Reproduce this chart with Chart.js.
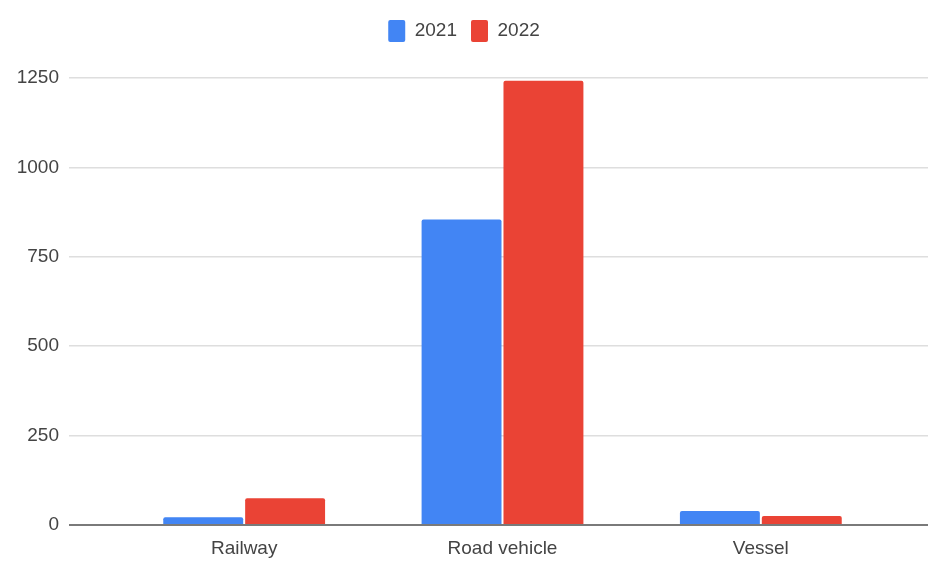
<!DOCTYPE html>
<html>
<head>
<meta charset="utf-8">
<script src="https://cdn.jsdelivr.net/npm/chart.js@4/dist/chart.umd.min.js"></script>
<style>
  html, body { margin: 0; padding: 0; background: #fff; }
  #wrap { width: 928px; height: 561px; }
</style>
</head>
<body>
<div id="wrap"><canvas id="c"></canvas></div>
<script>
// values
var categories = ['Railway', 'Road vehicle', 'Vessel'];
var seriesNames = ['2021', '2022'];
var values2021 = [22, 854, 39];
var values2022 = [75, 1242, 25];
var yTicks = [0, 250, 500, 750, 1000, 1250];

var FONT = "Arial, 'Liberation Sans', sans-serif";

// push the plot down below the legend
var legendGap = {
  id: 'legendGap',
  beforeInit: function(chart) {
    var fit = chart.legend.fit;
    chart.legend.fit = function() {
      fit.bind(this)();
      this.height += 26;
    };
  }
};

function gridColor(ctx) {
  return ctx.tick && ctx.tick.value === 0 ? '#7a7a7a' : '#dedede';
}
function gridWidth(ctx) {
  return ctx.tick && ctx.tick.value === 0 ? 2 : 1.5;
}
function fixedTicks(s) {
  s.ticks = yTicks.map(function(v) { return { value: v }; });
}

var ctx = document.getElementById('c').getContext('2d');
var chart = new Chart(ctx, {
  type: 'bar',
  data: {
    labels: categories,
    datasets: [
      { label: seriesNames[0], data: values2021, backgroundColor: '#4285f4', borderRadius: 2, borderSkipped: 'bottom' },
      { label: seriesNames[1], data: values2022, backgroundColor: '#ea4335', borderRadius: 2, borderSkipped: 'bottom' }
    ]
  },
  options: {
    responsive: true,
    maintainAspectRatio: false,
    animation: false,
    devicePixelRatio: 1,
    layout: { padding: { top: 6, left: 0, right: 0, bottom: 0 } },
    datasets: {
      bar: { categoryPercentage: 0.634, barPercentage: 0.976 }
    },
    plugins: {
      legend: {
        position: 'top',
        labels: {
          font: { family: FONT, size: 19 },
          color: '#444',
          boxWidth: 17,
          boxHeight: 22,
          padding: 14,
          useBorderRadius: true,
          borderRadius: 2
        }
      },
      tooltip: { enabled: false }
    },
    scales: {
      x: {
        grid: { display: false, drawTicks: false },
        border: { display: false },
        ticks: { font: { family: FONT, size: 19 }, color: '#444', padding: 12 },
        afterFit: function(s) { s.height = 36; }
      },
      y: {
        position: 'left',
        min: 0,
        max: 1250,
        afterBuildTicks: fixedTicks,
        grid: {
          drawOnChartArea: false,
          lineWidth: gridWidth,
          tickLength: 46,
          tickColor: gridColor,
          tickWidth: gridWidth
        },
        border: { display: false },
        ticks: {
          font: { family: FONT, size: 19 },
          color: '#444',
          padding: 10,
          callback: function(v) { return String(v); }
        },
        afterFit: function(s) { s.width = 115; }
      },
      yRight: {
        position: 'right',
        display: true,
        min: 0,
        max: 1250,
        afterBuildTicks: fixedTicks,
        grid: { color: gridColor, lineWidth: gridWidth, tickLength: 39, tickColor: gridColor, tickWidth: gridWidth },
        border: { display: false },
        ticks: { display: false },
        afterFit: function(s) { s.width = 38; }
      }
    }
  },
  plugins: [legendGap]
});
</script>
</body>
</html>
